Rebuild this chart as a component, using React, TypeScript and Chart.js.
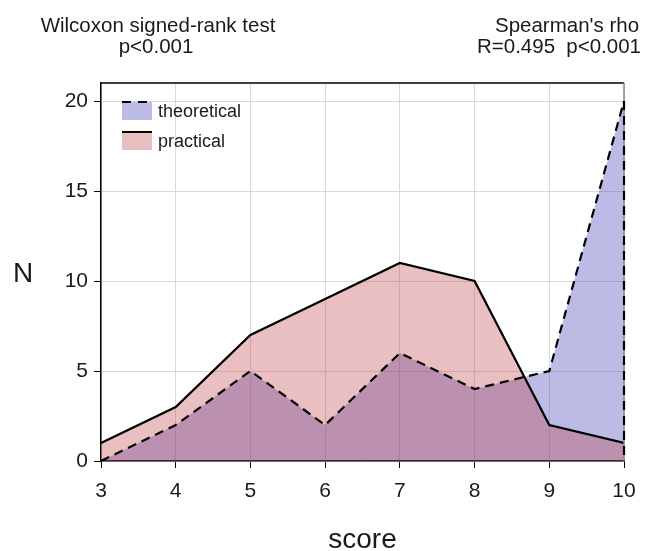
import { useEffect, useRef } from "react";
import { Chart, registerables } from "chart.js";

Chart.register(...registerables);

const scores = [3, 4, 5, 6, 7, 8, 9, 10];
const theoretical = [0, 2, 5, 2, 6, 4, 5, 20];
const practical = [1, 3, 7, 9, 11, 10, 2, 1];
const yTicks = [0, 5, 10, 15, 20];
const xTicks = [3, 4, 5, 6, 7, 8, 9, 10];
const leftTitle = ["Wilcoxon signed-rank test", "p<0.001"];
const rightTitle = ["Spearman's rho", "R=0.495", "p<0.001"];
const legendLabels = ["theoretical", "practical"];
const xLabel = "score";
const yLabel = "N";

const FONT = "'Liberation Sans', Arial, Helvetica, sans-serif";
const BLUE_FILL = "rgba(55,55,180,0.34)";
const RED_FILL = "rgba(190,60,70,0.33)";
const TEXT = "#1a1a1a";

const decorPlugin = {
  id: "decor",
  afterDraw(chart: any) {
    const { ctx, chartArea, scales } = chart;
    const xs = scales.x;
    const ys = scales.y;
    ctx.save();
    // frame top & right
    ctx.strokeStyle = "#000";
    ctx.lineWidth = 1.5;
    ctx.beginPath();
    ctx.moveTo(chartArea.left, chartArea.top);
    ctx.lineTo(chartArea.right, chartArea.top);
    ctx.stroke();
    ctx.strokeStyle = "#888";
    ctx.beginPath();
    ctx.moveTo(chartArea.right, chartArea.top);
    ctx.lineTo(chartArea.right, chartArea.bottom);
    ctx.stroke();
    // dashed closing edge of theoretical polygon
    const lastX = xs.getPixelForValue(scores[scores.length - 1]);
    ctx.strokeStyle = "#000";
    ctx.lineWidth = 2.2;
    ctx.setLineDash([9, 6]);
    ctx.beginPath();
    ctx.moveTo(lastX, ys.getPixelForValue(theoretical[theoretical.length - 1]));
    ctx.lineTo(lastX, ys.getPixelForValue(0));
    ctx.stroke();
    ctx.setLineDash([]);

    // legend
    const lx = chartArea.left + 21;
    const boxW = 30;
    const boxH = 18;
    const rows = [
      { y: chartArea.top + 19, fill: BLUE_FILL, dash: [9, 7], label: legendLabels[0] },
      { y: chartArea.top + 49, fill: RED_FILL, dash: [], label: legendLabels[1] },
    ];
    ctx.font = `18px ${FONT}`;
    ctx.textBaseline = "middle";
    ctx.textAlign = "left";
    for (const r of rows) {
      ctx.fillStyle = r.fill;
      ctx.fillRect(lx, r.y, boxW, boxH);
      ctx.strokeStyle = "#000";
      ctx.lineWidth = 2;
      ctx.setLineDash(r.dash);
      ctx.beginPath();
      ctx.moveTo(lx, r.y);
      ctx.lineTo(lx + boxW, r.y);
      ctx.stroke();
      ctx.setLineDash([]);
      ctx.fillStyle = TEXT;
      ctx.fillText(r.label, lx + boxW + 6, r.y + boxH / 2 + 1);
    }

    // titles
    ctx.fillStyle = TEXT;
    ctx.font = `20.5px ${FONT}`;
    ctx.textBaseline = "alphabetic";
    ctx.textAlign = "center";
    ctx.fillText(leftTitle[0], 158, 32);
    ctx.fillText(leftTitle[1], 156, 53);
    ctx.fillText(rightTitle[0], 567, 32);
    ctx.textAlign = "left";
    ctx.fillText(rightTitle[1], 477, 53);
    ctx.textAlign = "right";
    ctx.fillText(rightTitle[2], 641, 53);

    // axis labels
    ctx.font = `28px ${FONT}`;
    ctx.textAlign = "center";
    ctx.fillText(yLabel, 23, 282);
    ctx.fillText(xLabel, (chartArea.left + chartArea.right) / 2, 548);
    ctx.restore();
  },
};

export default function App() {
  const ref = useRef<HTMLCanvasElement | null>(null);
  useEffect(() => {
    if (!ref.current) return;
    Chart.defaults.font.family = FONT;
    const chart = new Chart(ref.current, {
      type: "line",
      data: {
        datasets: [
          {
            label: legendLabels[1],
            data: scores.map((x, i) => ({ x, y: practical[i] })),
            borderColor: "#000",
            borderWidth: 2.2,
            backgroundColor: RED_FILL,
            fill: "origin",
            pointRadius: 0,
            tension: 0,
          },
          {
            label: legendLabels[0],
            data: scores.map((x, i) => ({ x, y: theoretical[i] })),
            borderColor: "#000",
            borderWidth: 2.2,
            borderDash: [9, 6],
            backgroundColor: BLUE_FILL,
            fill: "origin",
            pointRadius: 0,
            tension: 0,
          },
        ],
      },
      options: {
        animation: false,
        responsive: false,
        devicePixelRatio: 1,
        layout: { padding: { left: 0, top: 83, right: 29, bottom: 0 } },
        plugins: {
          legend: { display: false },
          tooltip: { enabled: false },
          filler: { drawTime: "beforeDatasetsDraw" },
        },
        scales: {
          x: {
            type: "linear",
            min: 3,
            max: 10,
            afterBuildTicks: (s: any) => {
              s.ticks = xTicks.map((v) => ({ value: v }));
            },
            afterFit: (s: any) => {
              s.height = 90;
            },
            ticks: { font: { size: 21 }, color: TEXT, padding: 11, maxRotation: 0 },
            grid: { color: "#d9d9d9", tickColor: "#000", tickLength: 7, lineWidth: 1 },
            border: { display: true, color: "#000", width: 1.5 },
          },
          y: {
            min: 0,
            max: 21,
            afterBuildTicks: (s: any) => {
              s.ticks = yTicks.map((v) => ({ value: v }));
            },
            afterFit: (s: any) => {
              s.width = 101;
            },
            ticks: { font: { size: 21 }, color: TEXT, padding: 6 },
            grid: { color: "#d9d9d9", tickColor: "#000", tickLength: 7, lineWidth: 1 },
            border: { display: true, color: "#000", width: 1.5 },
          },
        },
      },
      plugins: [decorPlugin],
    } as any);
    return () => chart.destroy();
  }, []);
  return (
    <canvas
      ref={ref}
      width={653}
      height={551}
      style={{ position: "absolute", left: 0, top: 0, width: 653, height: 551 }}
    />
  );
}
